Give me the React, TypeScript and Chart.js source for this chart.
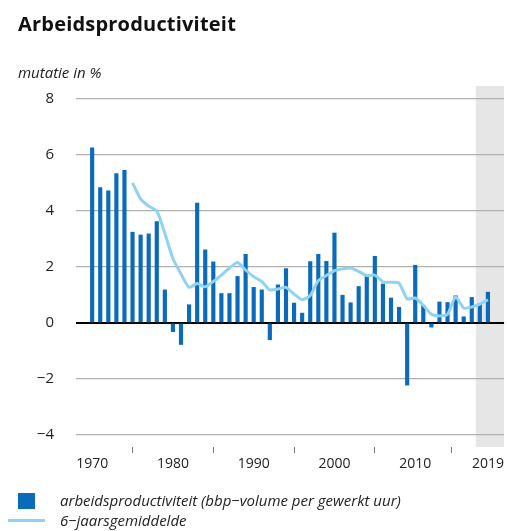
import React, { useEffect, useRef } from "react";
import { Chart, registerables } from "chart.js";

Chart.register(...registerables);

const barYears: number[] = Array.from({ length: 50 }, (_, i) => 1970 + i);
const barValues: number[] = [
  6.25, 4.83, 4.72, 5.33, 5.45, 3.24, 3.14, 3.18, 3.62, 1.18,
  -0.31, -0.77, 0.65, 4.28, 2.61, 2.18, 1.05, 1.05, 1.66, 2.45,
  1.27, 1.18, -0.6, 1.36, 1.94, 0.71, 0.35, 2.19, 2.45, 2.2,
  3.21, 0.99, 0.72, 1.3, 1.66, 2.38, 1.39, 0.89, 0.56, -2.22,
  2.06, 0.63, -0.15, 0.75, 0.73, 0.97, 0.22, 0.91, 0.67, 1.1,
];
const avgYears: number[] = Array.from({ length: 45 }, (_, i) => 1975 + i);
const avgValues: number[] = [
  5.0, 4.43, 4.17, 4.0, 3.2,
  2.3, 1.75, 1.27, 1.41, 1.29, 1.48, 1.71, 1.96, 2.16, 1.89,
  1.65, 1.48, 1.18, 1.21, 1.27, 1.03, 0.83, 0.98, 1.51, 1.69,
  1.87, 1.93, 1.96, 1.84, 1.69, 1.71, 1.47, 1.45, 1.42, 0.86,
  0.89, 0.63, 0.31, 0.25, 0.31, 0.93, 0.53, 0.57, 0.67, 0.83,
];
const xTickYears: number[] = [1970, 1980, 1990, 2000, 2010, 2019];
const yTickValues: number[] = [-4, -2, 0, 2, 4, 6, 8];
const shadedFrom = 2017.5;

const BAR_COLOR = "#0a6bbb";
const LINE_COLOR = "#8fd2f3";
const FONT = "'Open Sans', 'Liberation Sans', sans-serif";

const shadePlugin = {
  id: "shade",
  beforeDraw(chart: any) {
    const { ctx, chartArea, scales } = chart;
    const x0 = scales.x.getPixelForValue(shadedFrom);
    ctx.save();
    ctx.fillStyle = "#e6e6e6";
    ctx.fillRect(x0, chartArea.top, chartArea.right - x0, chartArea.bottom - chartArea.top);
    ctx.restore();
  },
};

export default function App() {
  const ref = useRef<HTMLCanvasElement | null>(null);

  useEffect(() => {
    document.body.style.margin = "0";
    const canvas = ref.current;
    if (!canvas) return;
    const chart = new Chart(canvas, {
      type: "bar",
      data: {
        datasets: [
          {
            type: "line",
            label: "6-jaarsgemiddelde",
            data: avgYears.map((x, i) => ({ x, y: avgValues[i] })),
            borderColor: LINE_COLOR,
            borderWidth: 3,
            pointRadius: 0,
            tension: 0.2,
            order: 0,
          } as any,
          {
            type: "bar",
            label: "arbeidsproductiviteit",
            data: barYears.map((x, i) => ({ x, y: barValues[i] })),
            backgroundColor: BAR_COLOR,
            barThickness: 3.5,
            order: 1,
          },
        ],
      },
      options: {
        animation: false,
        responsive: false,
        maintainAspectRatio: false,
        layout: { padding: { top: 86, bottom: 54, left: 0, right: 2 } },
        plugins: {
          legend: { display: false },
          tooltip: { enabled: false },
        },
        scales: {
          x: {
            type: "linear",
            min: 1968,
            max: 2021,
            offset: false,
            border: { display: false },
            grid: {
              display: true,
              drawOnChartArea: false,
              drawTicks: true,
              tickLength: 6,
              tickColor: "#777",
              tickWidth: 1,
              color: "#777",
            },
            afterBuildTicks: (s: any) => {
              s.ticks = xTickYears.map((v) => ({ value: v }));
            },
            afterFit: (s: any) => {
              s.height = 30;
            },
            ticks: {
              autoSkip: false,
              maxRotation: 0,
              padding: 3,
              color: "#222",
              font: { family: FONT, size: 14 },
              callback: (v: any) => String(v),
            },
          },
          y: {
            type: "linear",
            min: -4.43,
            max: 8.46,
            border: { display: false },
            grid: {
              drawTicks: false,
              color: (c: any) => (c.tick && c.tick.value === 0 ? "#000" : "#b0b0b0"),
              lineWidth: (c: any) => (c.tick && c.tick.value === 0 ? 2 : 1.2),
            },
            afterBuildTicks: (s: any) => {
              s.ticks = yTickValues.map((v) => ({ value: v }));
            },
            afterFit: (s: any) => {
              s.width = 76;
            },
            ticks: {
              padding: 22,
              color: "#222",
              font: { family: FONT, size: 15 },
              callback: (v: any) => (Number(v) < 0 ? "\u2212" + Math.abs(Number(v)) : String(v)),
            },
          },
        },
      },
      plugins: [shadePlugin],
    });
    return () => chart.destroy();
  }, []);

  return (
    <div style={{ position: "relative", width: 507, height: 531, overflow: "hidden", fontFamily: FONT, color: "#111" }}>
      <canvas ref={ref} width={507} height={531} style={{ position: "absolute", left: 0, top: 0 }} />
      <div style={{ position: "absolute", left: 18, top: 10, fontSize: 20, fontWeight: 700, letterSpacing: 0.2 }}>
        Arbeidsproductiviteit
      </div>
      <div style={{ position: "absolute", left: 18, top: 62, fontSize: 15, fontStyle: "italic", color: "#222" }}>
        mutatie in %
      </div>
      <div style={{ position: "absolute", left: 18, top: 493, width: 17, height: 16, background: BAR_COLOR }} />
      <div style={{ position: "absolute", left: 60, top: 490, fontSize: 15, fontStyle: "italic", color: "#222", whiteSpace: "nowrap" }}>
        arbeidsproductiviteit (bbp{"\u2212"}volume per gewerkt uur)
      </div>
      <div style={{ position: "absolute", left: 8, top: 519, width: 37, height: 3, background: LINE_COLOR }} />
      <div style={{ position: "absolute", left: 60, top: 510, fontSize: 15, fontStyle: "italic", color: "#222", whiteSpace: "nowrap" }}>
        6{"\u2212"}jaarsgemiddelde
      </div>
    </div>
  );
}
